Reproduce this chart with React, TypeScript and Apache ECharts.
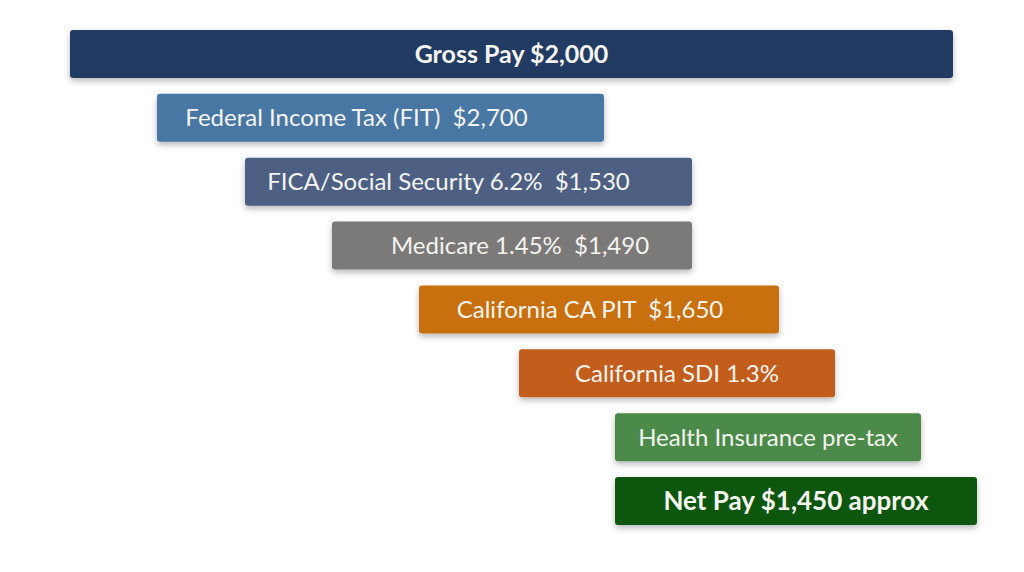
import React, { useEffect, useRef } from "react";
import * as echarts from "echarts";

const labels = [
  "Gross Pay $2,000",
  "Federal Income Tax (FIT)  $2,700",
  "FICA/Social Security 6.2%  $1,530",
  "Medicare 1.45%  $1,490",
  "California CA PIT  $1,650",
  "California SDI 1.3%",
  "Health Insurance pre-tax",
  "Net Pay $1,450 approx",
];
const barStart = [70, 157, 245, 332, 419, 519, 615, 615];
const barEnd = [953, 604, 692, 692, 779, 835, 921, 977];
const colors = ["#233a62", "#4a77a3", "#4d6183", "#7b7979", "#c8700e", "#c35d1d", "#4b8a4a", "#0c5711"];
const labelSizes = [25, 24, 24, 24, 24, 24, 24, 26];
const labelWeights = ["bold", "normal", "normal", "normal", "normal", "normal", "normal", "bold"];
const labelShiftX = [0, -24, -20, 8, -9, 0, 0, 0];

export default function App() {
  const ref = useRef<HTMLDivElement>(null);
  useEffect(() => {
    if (!ref.current) return;
    const chart = echarts.init(ref.current, null, { renderer: "svg" });
    chart.setOption({
      animation: false,
      backgroundColor: "#ffffff",
      grid: { left: 0, right: 0, top: 22, height: 511, containLabel: false },
      xAxis: { type: "value", min: 0, max: 1024, show: false },
      yAxis: { type: "category", data: labels, inverse: true, show: false },
      series: [
        {
          type: "bar",
          stack: "s",
          silent: true,
          itemStyle: { color: "transparent" },
          data: barStart,
          barWidth: 48,
        },
        {
          type: "bar",
          stack: "s",
          barWidth: 48,
          data: barEnd.map((e, i) => ({
            value: e - barStart[i],
            itemStyle: {
              color: colors[i],
              borderRadius: 3,
              shadowBlur: 6,
              shadowOffsetY: 3,
              shadowColor: "rgba(0,0,0,0.28)",
            },
            label: {
              show: true,
              position: "inside",
              offset: [labelShiftX[i], -1],
              formatter: labels[i],
              color: "#f4f4f0",
              fontFamily: "Lato",
              fontSize: labelSizes[i],
              fontWeight: labelWeights[i],
            },
          })),
        },
      ],
    });
    return () => chart.dispose();
  }, []);
  return (
    <div
      ref={ref}
      style={{ position: "fixed", left: 0, top: 0, width: 1024, height: 572, background: "#fff" }}
    />
  );
}
